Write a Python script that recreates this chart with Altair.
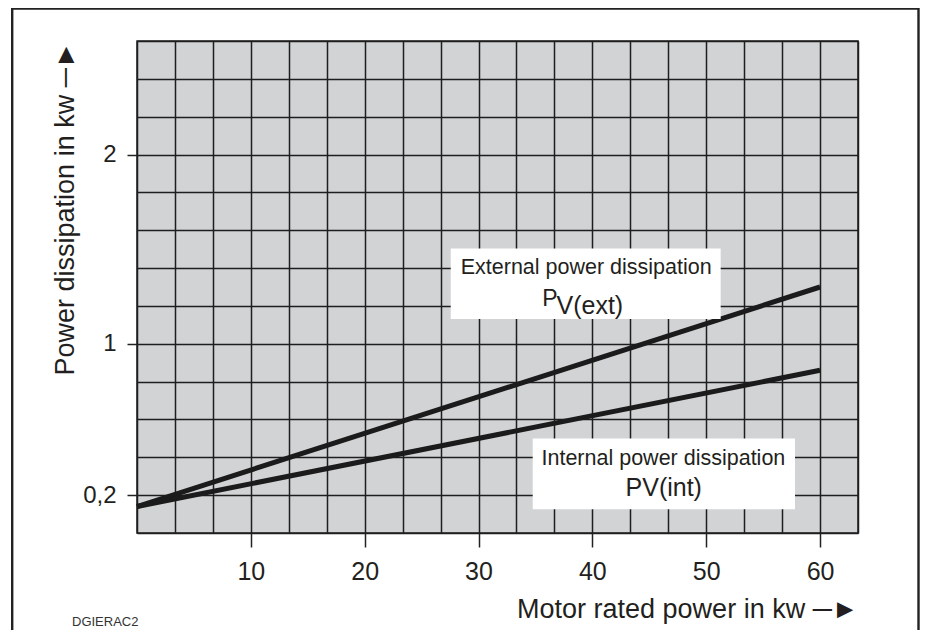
import altair as alt
import pandas as pd

# ---------------- data ----------------
series_names = ["External power dissipation", "Internal power dissipation"]
x_kw = [0, 60]                 # motor rated power (kw)
p_ext = [0.14, 1.30]           # external power dissipation (kw)
p_int = [0.14, 0.86]           # internal power dissipation (kw)

x_grid = [i * 10 / 3 for i in range(20)]        # grid every 10/3 kw
y_grid = [round(i * 0.2, 1) for i in range(14)]  # grid every 0.2 kw
x_ticks = [10, 20, 30, 40, 50, 60]
y_ticks = [0.2, 1, 2]
y_tick_labels = ["0,2", "1", "2"]

x_title = "Motor rated power in kw  \u2500\u25ba"
y_title = "Power dissipation in kw  \u2500\u25ba"
code_text = "DGIERAC2"

# annotation boxes (data space)
box_x1 = [27.56, 34.76]
box_x2 = [51.27, 57.80]
box_y1 = [1.131, 0.125]
box_y2 = [1.504, 0.500]

# annotation texts (data space)
ann_text = ["External power dissipation", "P", "V(ext)",
            "Internal power dissipation", "PV(int)"]
ann_x = [39.46, 36.27, 39.78, 46.24, 46.27]
ann_y = [1.369, 1.201, 1.157, 0.3593, 0.1955]
ann_fs = [21.5, 23, 25, 21.5, 25]

FONT = "Liberation Sans, Arial, Helvetica, sans-serif"
INK = "#231f20"

# ---------------- tables ----------------
lines_df = pd.DataFrame({
    "series": [series_names[0]] * len(x_kw) + [series_names[1]] * len(x_kw),
    "kw": x_kw + x_kw,
    "p": p_ext + p_int,
})
box_df = pd.DataFrame({"x1": box_x1, "x2": box_x2, "y1": box_y1, "y2": box_y2})
ann_df = pd.DataFrame({"text": ann_text, "x": ann_x, "y": ann_y, "fs": ann_fs})

x_test = " || ".join(f"abs(datum.value - {v}) < 0.001" for v in x_ticks)
y_test = " || ".join(f"abs(datum.value - {v}) < 0.001" for v in y_ticks)
y_label_expr = " : ".join(
    f"abs(datum.value - {v}) < 0.001 ? '{t}'" for v, t in zip(y_ticks, y_tick_labels)
) + " : ''"
x_label_expr = f"({x_test}) ? format(round(datum.value), 'd') : ''"

x_axis = alt.Axis(
    values=x_grid, grid=True, gridColor="#1e1e1e", gridWidth=1.5,
    domain=False, tickSize=14, tickWidth=1.5, tickColor="#222",
    tickOpacity={"condition": {"test": x_test, "value": 1}, "value": 0},
    labelExpr=x_label_expr, labelFontSize=25, labelFont=FONT, labelColor=INK,
    labelPadding=12.5, labelFlush=False, labelOverlap=False,
    title=x_title, titleFont=FONT, titleFontSize=27, titleFontWeight="normal",
    titleColor=INK, titleAnchor="end", titlePadding=12,
)
y_axis = alt.Axis(
    values=y_grid, grid=True, gridColor="#1e1e1e", gridWidth=1.5,
    domain=False, tickSize=10, tickWidth=1.5, tickColor="#222",
    tickOpacity={"condition": {"test": y_test, "value": 1}, "value": 0},
    labelExpr=y_label_expr, labelFontSize=24, labelFont=FONT, labelColor=INK,
    labelPadding=11, labelOverlap=False,
    title=y_title, titleFont=FONT, titleFontSize=27, titleFontWeight="normal",
    titleColor=INK, titleAnchor="end", titlePadding=3,
)

x_scale = alt.Scale(domain=[0, 190 / 3], nice=False, zero=False)
y_scale = alt.Scale(domain=[0, 2.6], nice=False, zero=False)

lines = alt.Chart(lines_df).mark_line(
    color="#1b1b1b", strokeWidth=5, strokeCap="butt"
).encode(
    x=alt.X("kw:Q", scale=x_scale, axis=x_axis),
    y=alt.Y("p:Q", scale=y_scale, axis=y_axis),
    detail="series:N",
)

boxes = alt.Chart(box_df).mark_rect(color="white", opacity=1).encode(
    x=alt.X("x1:Q", scale=x_scale, axis=x_axis), x2="x2:Q",
    y=alt.Y("y1:Q", scale=y_scale, axis=y_axis), y2="y2:Q",
)

texts = alt.Chart(ann_df).mark_text(
    align="center", baseline="alphabetic", font=FONT, color=INK
).encode(
    x=alt.X("x:Q", scale=x_scale, axis=x_axis),
    y=alt.Y("y:Q", scale=y_scale, axis=y_axis),
    text="text:N",
    size=alt.Size("fs:Q", scale=None, legend=None),
)

frame = alt.Chart(alt.Data(values=[{}])).mark_rect(
    filled=False, color="#222", strokeWidth=2.4
).encode(
    x=alt.value(-124.8), x2=alt.value(781.5),
    y=alt.value(-32.5), y2=alt.value(650),
)

code = alt.Chart(alt.Data(values=[{"t": code_text}])).mark_text(
    align="left", baseline="alphabetic", font=FONT, fontSize=13, color="#333"
).encode(
    x=alt.value(-65), y=alt.value(584.5), text="t:N"
)

chart = alt.layer(frame, lines, boxes, texts, code).properties(
    width=721, height=492,
    autosize=alt.AutoSizeParams(type="none"),
    padding={"left": 129, "top": 33, "right": 63, "bottom": 97},
).configure_view(
    fill="#d1d3d4", stroke="#1e1e1e", strokeWidth=1.5
)

chart.save("out.html", embed_options={"renderer": "svg", "actions": False})
